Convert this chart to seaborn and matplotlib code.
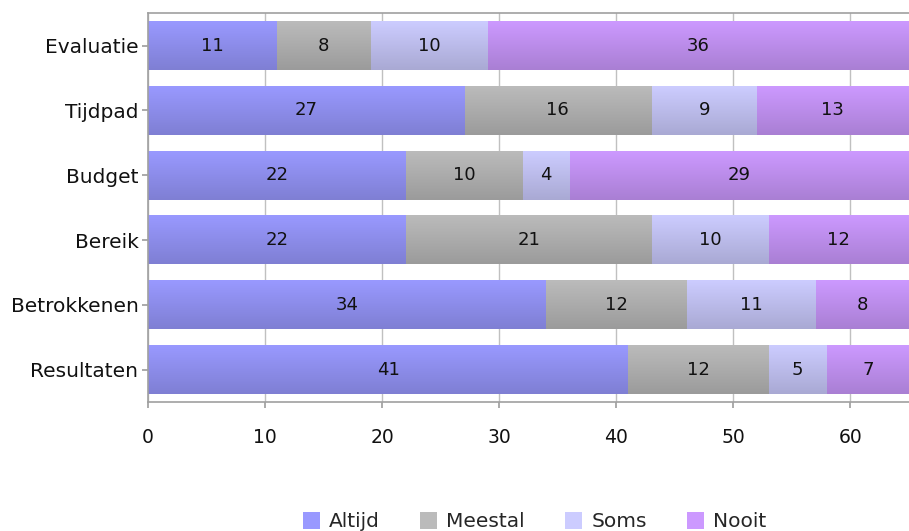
import matplotlib
matplotlib.use("Agg")
import matplotlib.pyplot as plt
import matplotlib.colors as mcolors
import seaborn as sns
import numpy as np
import pandas as pd
from matplotlib.patches import Patch

categories = ["Evaluatie", "Tijdpad", "Budget", "Bereik", "Betrokkenen", "Resultaten"]
altijd = [11, 27, 22, 22, 34, 41]
meestal = [8, 16, 10, 21, 12, 12]
soms = [10, 9, 4, 10, 11, 5]
nooit = [36, 13, 29, 12, 8, 7]
series_names = ["Altijd", "Meestal", "Soms", "Nooit"]
top_colors = ["#9999ff", "#bbbbbb", "#ccccff", "#cc99ff"]

sns.set_theme(style="white")
plt.rcParams['font.family'] = ['DejaVu Sans']

vals = np.array([altijd, meestal, soms, nooit], dtype=float)
cums = np.cumsum(vals, axis=0)

fig = plt.figure(figsize=(9.09, 5.31), dpi=100)
ax = fig.add_axes([0.163, 0.243, 0.837, 0.732])

# cumulative bars, largest first, so they stack
order = [3, 2, 1, 0]
for i in order:
    d = pd.DataFrame({"cat": categories, "v": cums[i]})
    sns.barplot(data=d, y="cat", x="v", orient="h", color=top_colors[i],
                width=0.75, ax=ax, saturation=1, edgecolor="none", zorder=2)

# vertical gradient on each bar (3D-like shading)
patches = list(ax.patches)
n = len(categories)
for k, p in enumerate(patches):
    si = order[k // n]
    rgb = np.array(mcolors.to_rgb(top_colors[si]))
    x0, y0 = p.get_x(), p.get_y()
    w, h = p.get_width(), p.get_height()
    t = np.linspace(0, 1, 64)[:, None]
    shade = 1.0 - 0.17 * t
    grad = (rgb[None, :] * shade)[:, None, :]
    ax.imshow(grad, extent=(x0, x0 + w, y0 + h, y0), origin="upper",
              aspect="auto", zorder=2 + k * 0.001, interpolation="bilinear")
    p.set_visible(False)

for i in range(4):
    starts = cums[i] - vals[i]
    for j, c in enumerate(categories):
        ax.text(starts[j] + vals[i][j] / 2, j, f"{int(vals[i][j])}",
                ha="center", va="center", fontsize=13, color="#111111", zorder=5)

ax.set_xlim(0, 65)
ax.set_ylim(5.5, -0.5)
ax.set_xticks(range(0, 61, 10))
ax.set_xlabel("")
ax.set_ylabel("")
ax.grid(axis="x", color="#c0c0c0", linewidth=1, zorder=0)
ax.set_axisbelow(True)
for s in ["top", "left", "bottom"]:
    ax.spines[s].set_color("#a0a0a0")
    ax.spines[s].set_linewidth(1.2)
ax.spines["right"].set_visible(False)
ax.tick_params(axis="y", labelsize=14.5, colors="#111111", length=4,
               color="#a0a0a0", left=True, pad=3)
ax.tick_params(axis="x", labelsize=13.5, colors="#111111", length=4,
               color="#a0a0a0", bottom=True, pad=15)

handles = [Patch(facecolor=top_colors[i], edgecolor="none", label=series_names[i])
           for i in range(4)]
fig.legend(handles=handles, loc="lower center", bbox_to_anchor=(0.588, -0.035),
           ncol=4, frameon=False, fontsize=14.5, handlelength=0.85, handleheight=0.85,
           columnspacing=2.0, handletextpad=0.45)

fig.savefig("out.png", dpi=100)
